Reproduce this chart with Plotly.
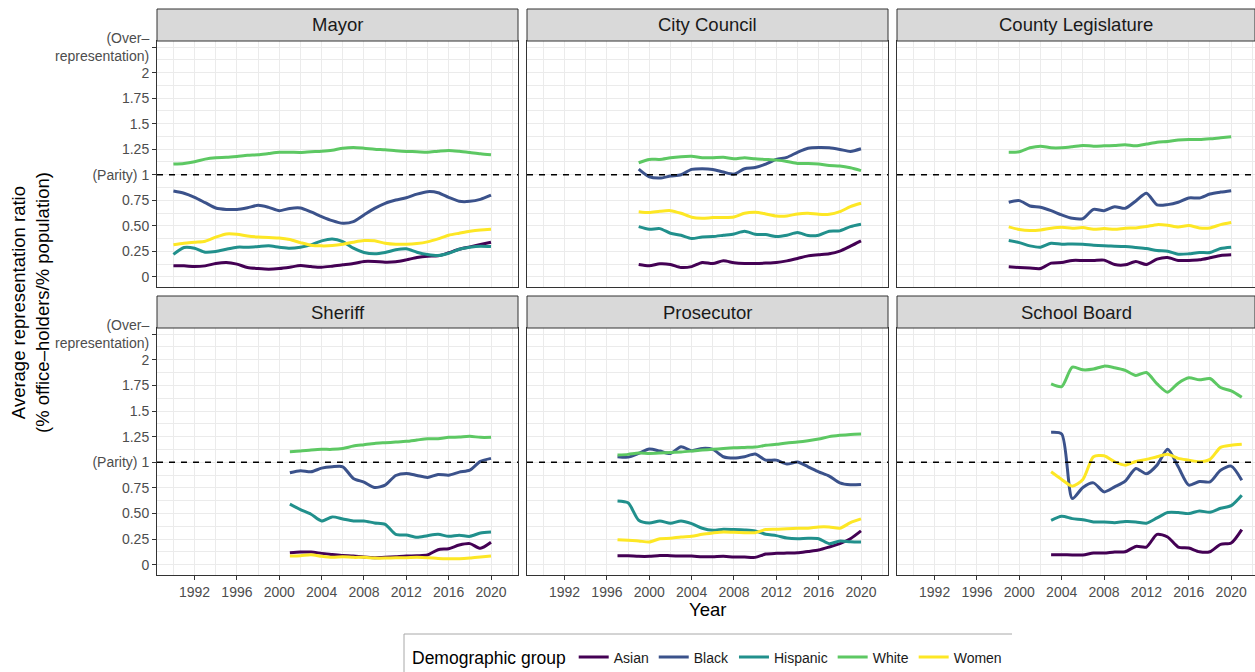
import plotly.graph_objects as go

W, H = 1255, 672
FONT = "Liberation Sans, Arial, Helvetica, sans-serif"

groups = ["Asian", "Black", "Hispanic", "White", "Women"]
group_colors = ["#440154", "#3B528B", "#21908C", "#5DC863", "#FDE725"]
offices = ["Mayor", "City Council", "County Legislature", "Sheriff", "Prosecutor", "School Board"]

# ---------------- data ----------------
mayor_years = list(range(1990, 2021))
mayor_asian = [0.107, 0.107, 0.10, 0.107, 0.13, 0.14, 0.124, 0.091, 0.081, 0.075, 0.081,
               0.094, 0.11, 0.10, 0.094, 0.104, 0.117, 0.13, 0.15, 0.15, 0.143,
               0.147, 0.166, 0.189, 0.202, 0.205, 0.235, 0.27, 0.293, 0.316, 0.339]
mayor_black = [0.84, 0.818, 0.778, 0.726, 0.674, 0.66, 0.66, 0.677, 0.70, 0.68, 0.648,
               0.67, 0.674, 0.635, 0.59, 0.55, 0.524, 0.54, 0.606, 0.67, 0.72,
               0.752, 0.775, 0.81, 0.834, 0.824, 0.778, 0.74, 0.739, 0.759, 0.80]
mayor_hispanic = [0.22, 0.287, 0.28, 0.241, 0.248, 0.27, 0.29, 0.29, 0.296, 0.303, 0.29,
                  0.28, 0.29, 0.313, 0.352, 0.371, 0.345, 0.28, 0.238, 0.225, 0.238,
                  0.264, 0.274, 0.241, 0.218, 0.208, 0.231, 0.27, 0.29, 0.30, 0.296]
mayor_white = [1.104, 1.11, 1.127, 1.153, 1.166, 1.17, 1.179, 1.19, 1.195, 1.208, 1.22,
               1.22, 1.218, 1.225, 1.23, 1.24, 1.26, 1.267, 1.26, 1.25, 1.244,
               1.235, 1.228, 1.225, 1.22, 1.23, 1.238, 1.23, 1.218, 1.205, 1.195]
mayor_women = [0.313, 0.329, 0.339, 0.349, 0.388, 0.42, 0.417, 0.40, 0.39, 0.384, 0.38,
               0.365, 0.335, 0.309, 0.303, 0.306, 0.319, 0.339, 0.355, 0.352, 0.329,
               0.319, 0.319, 0.326, 0.342, 0.371, 0.407, 0.427, 0.446, 0.459, 0.466]

council_years = list(range(1999, 2021))
council_asian = [0.12, 0.107, 0.127, 0.12, 0.091, 0.10, 0.14, 0.13, 0.156, 0.137, 0.13,
                 0.13, 0.134, 0.14, 0.156, 0.179, 0.205, 0.215, 0.225, 0.251, 0.30, 0.352]
council_black = [1.055, 0.98, 0.967, 0.987, 1.0, 1.052, 1.059, 1.052, 1.026, 1.006, 1.059,
                 1.07, 1.104, 1.15, 1.17, 1.22, 1.26, 1.267, 1.264, 1.248, 1.228, 1.254]
council_hispanic = [0.492, 0.466, 0.472, 0.427, 0.407, 0.375, 0.39, 0.394, 0.407, 0.42, 0.446,
                    0.417, 0.414, 0.394, 0.407, 0.433, 0.404, 0.407, 0.446, 0.45, 0.492, 0.515]
council_white = [1.117, 1.15, 1.15, 1.166, 1.176, 1.18, 1.166, 1.166, 1.17, 1.156, 1.166,
                 1.156, 1.15, 1.143, 1.13, 1.11, 1.11, 1.104, 1.09, 1.085, 1.068, 1.04]
council_women = [0.638, 0.629, 0.642, 0.648, 0.622, 0.583, 0.573, 0.58, 0.58, 0.586, 0.622,
                 0.632, 0.616, 0.596, 0.596, 0.616, 0.622, 0.612, 0.612, 0.638, 0.687, 0.72]

county_years = list(range(1999, 2021))
county_asian = [0.098, 0.091, 0.085, 0.081, 0.134, 0.14, 0.16, 0.16, 0.16, 0.163, 0.12,
                0.117, 0.15, 0.12, 0.173, 0.189, 0.16, 0.16, 0.166, 0.186, 0.208, 0.215]
county_black = [0.73, 0.746, 0.694, 0.681, 0.648, 0.606, 0.573, 0.57, 0.661, 0.648, 0.687,
                0.671, 0.743, 0.818, 0.704, 0.707, 0.73, 0.772, 0.772, 0.811, 0.83, 0.844]
county_hispanic = [0.355, 0.335, 0.303, 0.29, 0.329, 0.319, 0.322, 0.319, 0.309, 0.303, 0.30,
                   0.296, 0.287, 0.277, 0.257, 0.251, 0.221, 0.225, 0.238, 0.238, 0.277, 0.29]
county_white = [1.221, 1.225, 1.264, 1.28, 1.264, 1.264, 1.274, 1.287, 1.28, 1.283, 1.287,
                1.293, 1.283, 1.30, 1.319, 1.326, 1.339, 1.345, 1.345, 1.352, 1.362, 1.371]
county_women = [0.489, 0.463, 0.453, 0.459, 0.476, 0.485, 0.476, 0.482, 0.466, 0.472, 0.466,
                0.476, 0.479, 0.492, 0.511, 0.505, 0.489, 0.502, 0.479, 0.479, 0.511, 0.531]

sheriff_years = list(range(2001, 2021))
sheriff_asian = [0.117, 0.124, 0.124, 0.111, 0.101, 0.091, 0.085, 0.075, 0.069, 0.072,
                 0.078, 0.085, 0.088, 0.095, 0.147, 0.157, 0.192, 0.206, 0.16, 0.219]
sheriff_black = [0.897, 0.917, 0.907, 0.943, 0.956, 0.956, 0.842, 0.806, 0.754, 0.777,
                 0.871, 0.891, 0.871, 0.852, 0.881, 0.874, 0.904, 0.923, 1.008, 1.038]
sheriff_hispanic = [0.591, 0.538, 0.493, 0.427, 0.467, 0.447, 0.427, 0.427, 0.408, 0.395,
                    0.297, 0.29, 0.268, 0.284, 0.297, 0.277, 0.287, 0.277, 0.31, 0.32]
sheriff_white = [1.103, 1.109, 1.119, 1.126, 1.126, 1.135, 1.158, 1.171, 1.184, 1.191,
                 1.197, 1.204, 1.217, 1.23, 1.23, 1.243, 1.246, 1.253, 1.243, 1.243]
sheriff_women = [0.085, 0.088, 0.098, 0.082, 0.072, 0.078, 0.072, 0.072, 0.065, 0.065,
                 0.069, 0.069, 0.072, 0.069, 0.062, 0.059, 0.059, 0.065, 0.075, 0.085]

prosecutor_years = list(range(1997, 2021))
prosecutor_asian = [0.088, 0.088, 0.082, 0.082, 0.091, 0.088, 0.085, 0.085, 0.078, 0.078,
                    0.082, 0.075, 0.075, 0.072, 0.104, 0.111, 0.114, 0.117, 0.13, 0.144,
                    0.173, 0.206, 0.254, 0.33]
prosecutor_black = [1.054, 1.05, 1.086, 1.129, 1.109, 1.086, 1.152, 1.113, 1.135, 1.126,
                    1.054, 1.041, 1.054, 1.08, 1.021, 1.021, 0.982, 1.002, 0.956, 0.907,
                    0.865, 0.799, 0.78, 0.783]
prosecutor_hispanic = [0.623, 0.604, 0.434, 0.408, 0.427, 0.405, 0.427, 0.401, 0.356, 0.336,
                       0.346, 0.343, 0.339, 0.33, 0.297, 0.284, 0.261, 0.254, 0.258, 0.254,
                       0.206, 0.232, 0.225, 0.222]
prosecutor_white = [1.07, 1.077, 1.09, 1.086, 1.09, 1.096, 1.1, 1.109, 1.119, 1.126,
                    1.135, 1.142, 1.145, 1.148, 1.165, 1.175, 1.188, 1.197, 1.21, 1.227,
                    1.25, 1.263, 1.272, 1.276]
prosecutor_women = [0.245, 0.238, 0.232, 0.222, 0.254, 0.258, 0.271, 0.277, 0.297, 0.31,
                    0.32, 0.316, 0.313, 0.313, 0.343, 0.346, 0.352, 0.356, 0.356, 0.369,
                    0.369, 0.356, 0.411, 0.447]

school_years = list(range(2003, 2022))
school_asian = [0.098, 0.098, 0.095, 0.095, 0.114, 0.114, 0.124, 0.127, 0.179, 0.173,
                0.297, 0.271, 0.173, 0.163, 0.127, 0.127, 0.199, 0.212, 0.343]
school_black = [1.292, 1.276, 0.646, 0.754, 0.799, 0.711, 0.76, 0.816, 0.94, 0.887,
                0.972, 1.126, 0.956, 0.777, 0.812, 0.809, 0.923, 0.962, 0.825]
school_hispanic = [0.434, 0.473, 0.45, 0.44, 0.418, 0.418, 0.411, 0.421, 0.418, 0.405,
                   0.457, 0.509, 0.509, 0.499, 0.525, 0.512, 0.551, 0.577, 0.679]
school_white = [1.765, 1.739, 1.928, 1.902, 1.909, 1.938, 1.922, 1.896, 1.847, 1.876,
                1.765, 1.684, 1.772, 1.824, 1.804, 1.817, 1.729, 1.697, 1.635]
school_women = [0.907, 0.832, 0.767, 0.832, 1.054, 1.064, 1.005, 0.972, 1.008, 1.028,
                1.054, 1.077, 1.038, 1.021, 1.005, 1.028, 1.145, 1.165, 1.175]

x_tick_vals = [1992, 1996, 2000, 2004, 2008, 2012, 2016, 2020]
x_minor_vals = [1990, 1994, 1998, 2002, 2006, 2010, 2014, 2018, 2022]
y_tick_vals = [0, 0.25, 0.5, 0.75, 1, 1.25, 1.5, 1.75, 2, 2.25]
y_tick_text = ["0", "0.25", "0.50", "0.75", "(Parity) 1", "1.25", "1.5", "1.75", "2",
               "(Over–<br>representation)"]
y_minor_vals = [0.125, 0.375, 0.625, 0.875, 1.125, 1.375, 1.625, 1.875, 2.125]
under_label_value = -0.25
parity_value = 1

panel_data = [
    (mayor_years, [mayor_asian, mayor_black, mayor_hispanic, mayor_white, mayor_women]),
    (council_years, [council_asian, council_black, council_hispanic, council_white, council_women]),
    (county_years, [county_asian, county_black, county_hispanic, county_white, county_women]),
    (sheriff_years, [sheriff_asian, sheriff_black, sheriff_hispanic, sheriff_white, sheriff_women]),
    (prosecutor_years, [prosecutor_asian, prosecutor_black, prosecutor_hispanic,
                        prosecutor_white, prosecutor_women]),
    (school_years, [school_asian, school_black, school_hispanic, school_white, school_women]),
]

# ---------------- layout geometry (pixels) ----------------
def px(p):
    return p / W

def py(p):
    return 1 - p / H

col_px = [(157, 518), (527, 888), (897, 1255)]
row_px = [(41, 287), (328, 575)]
strip_px = [(9, 41), (296, 328)]
x_ranges = [[1988.45, 2022.55], [1988.45, 2022.55], [1988.45, 2022.25]]
y_range = [-0.1, 2.31]

TICK_COLOR = "#4D4D4D"
BORDER = "#333333"
GRID = "#EBEBEB"

fig = go.Figure()

for k, (years, series) in enumerate(panel_data):
    n = k + 1
    for g, (name, color, vals) in enumerate(zip(groups, group_colors, series)):
        fig.add_trace(go.Scatter(
            x=years, y=vals, mode="lines", name=name, legendgroup=name,
            showlegend=(k == 0),
            line=dict(color=color, width=3, shape="spline", smoothing=0.7),
            xaxis=f"x{n}", yaxis=f"y{n}", hoverinfo="x+y+name",
        ))

layout = {}
shapes = []
annotations = []
for k in range(6):
    n = k + 1
    r, c = divmod(k, 3)
    xname = "xaxis" if n == 1 else f"xaxis{n}"
    yname = "yaxis" if n == 1 else f"yaxis{n}"
    bottom = r == 1
    left = c == 0
    layout[xname] = dict(
        domain=[px(col_px[c][0]), px(col_px[c][1])], anchor=f"y{n}",
        range=x_ranges[c], tickmode="array", tickvals=x_tick_vals,
        showticklabels=bottom, ticks="outside" if bottom else "", ticklen=4,
        tickcolor=BORDER, tickwidth=1,
        tickfont=dict(size=14, color=TICK_COLOR, family=FONT),
        showgrid=True, gridcolor=GRID, gridwidth=1.1,
        minor=dict(tickvals=x_minor_vals, showgrid=True, gridcolor=GRID, gridwidth=0.6),
        showline=True, mirror=True, linecolor=BORDER, linewidth=1, zeroline=False,
        automargin=False,
    )
    layout[yname] = dict(
        domain=[py(row_px[r][1]), py(row_px[r][0])], anchor=f"x{n}",
        range=y_range, tickmode="array", tickvals=y_tick_vals, ticktext=y_tick_text,
        showticklabels=left, ticks="outside" if left else "", ticklen=4,
        tickcolor=BORDER, tickwidth=1,
        tickfont=dict(size=14, color=TICK_COLOR, family=FONT),
        showgrid=True, gridcolor=GRID, gridwidth=1.1,
        minor=dict(tickvals=y_minor_vals, showgrid=True, gridcolor=GRID, gridwidth=0.6),
        showline=True, mirror=True, linecolor=BORDER, linewidth=1, zeroline=False,
        automargin=False,
    )
    # strip
    shapes.append(dict(type="rect", xref="paper", yref="paper",
                       x0=px(col_px[c][0]), x1=px(col_px[c][1]),
                       y0=py(strip_px[r][1]), y1=py(strip_px[r][0]),
                       fillcolor="#D9D9D9", line=dict(color=BORDER, width=1)))
    annotations.append(dict(text=offices[k], xref="paper", yref="paper",
                            x=px((col_px[c][0] + col_px[c][1]) / 2),
                            y=py((strip_px[r][0] + strip_px[r][1]) / 2),
                            xanchor="center", yanchor="middle", showarrow=False,
                            font=dict(size=18.5, color="#1A1A1A", family=FONT)))
    # parity line
    dref = "x domain" if n == 1 else f"x{n} domain"
    shapes.append(dict(type="line", xref=dref, yref=f"y{n}", x0=0, x1=1,
                       y0=parity_value, y1=parity_value, layer="above",
                       line=dict(color="black", width=1.4, dash="6px,6px")))
    if left:
        annotations.append(dict(text="(Under–<br>representation)", xref="paper",
                                yref=f"y{n}", x=px(150), y=under_label_value,
                                xanchor="right", yanchor="middle", align="right",
                                showarrow=False,
                                font=dict(size=14, color=TICK_COLOR, family=FONT)))

annotations.append(dict(text="Average representation ratio<br>(% office–holders/% population)",
                        xref="paper", yref="paper", x=px(30), y=py(303), textangle=-90,
                        xanchor="center", yanchor="middle", showarrow=False,
                        font=dict(size=18.5, color="black", family=FONT)))
annotations.append(dict(text="Year", xref="paper", yref="paper", x=px(707), y=py(609),
                        xanchor="center", yanchor="middle", showarrow=False,
                        font=dict(size=18.5, color="black", family=FONT)))

# legend box edges (top and left, as visible in the reference)
shapes.append(dict(type="line", xref="paper", yref="paper", x0=px(404), x1=px(1012),
                   y0=py(634), y1=py(634), line=dict(color="#A8A8A8", width=1)))
shapes.append(dict(type="line", xref="paper", yref="paper", x0=px(404), x1=px(404),
                   y0=py(634), y1=py(672), line=dict(color="#A8A8A8", width=1)))

fig.update_layout(
    width=W, height=H, margin=dict(l=0, r=0, t=0, b=0, autoexpand=False),
    paper_bgcolor="white", plot_bgcolor="white",
    font=dict(family=FONT),
    shapes=shapes, annotations=annotations,
    legend=dict(orientation="h", x=px(410), xanchor="left", y=py(658), yanchor="middle",
                title=dict(text="Demographic group", side="left",
                           font=dict(size=17.5, color="black", family=FONT)),
                font=dict(size=14, color="#1A1A1A", family=FONT),
                bgcolor="rgba(0,0,0,0)", borderwidth=0, itemwidth=30),
    **layout,
)

fig.write_html("out.html")
